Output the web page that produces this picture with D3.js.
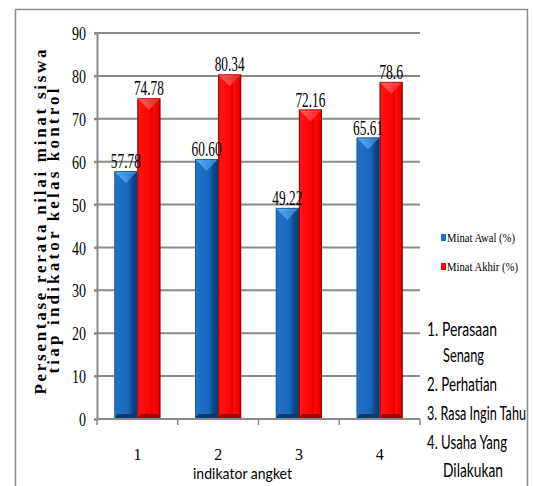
<!DOCTYPE html>
<html>
<head>
<meta charset="utf-8">
<script src="https://cdn.jsdelivr.net/npm/d3@7"></script>
<style>
  html, body { margin: 0; padding: 0; background: #fff; }
  svg { display: block; }
</style>
</head>
<body>
<svg id="chart" width="533" height="486"></svg>
<script>
// Indicator categories and the two series (percent)
const categories = ["1", "2", "3", "4"];
const seriesNames = ["Minat Awal (%)", "Minat Akhir (%)"];
const minatAwal = [57.78, 60.60, 49.22, 65.61];
const minatAkhir = [74.78, 80.34, 72.16, 78.6];
const yTicks = [0, 10, 20, 30, 40, 50, 60, 70, 80, 90];
const indicatorNotes = [
  ["1.  Perasaan", "Senang"],
  ["2. Perhatian"],
  ["3. Rasa Ingin Tahu"],
  ["4. Usaha Yang", "Dilakukan"]
];

const svg = d3.select("#chart");
const serif = "'Liberation Serif', 'Times New Roman', Times, 'DejaVu Serif', serif";
const sans = "Lato, 'Open Sans', sans-serif";
const gridColor = "#8a8a8a";

// gradients for the bevelled bars
const defs = svg.append("defs");
function hGrad(id, stops) {
  const g = defs.append("linearGradient").attr("id", id)
    .attr("x1", 0).attr("x2", 1).attr("y1", 0).attr("y2", 0);
  stops.forEach(s => g.append("stop").attr("offset", s[0]).attr("stop-color", s[1]));
}
hGrad("blueBody", [["0%", "#3a8ad8"], ["8%", "#1f72c6"], ["60%", "#1767bb"], ["70%", "#115aa6"], ["78%", "#0c4a8d"], ["100%", "#093c73"]]);
hGrad("redBody", [["0%", "#a80000"], ["7%", "#ff1414"], ["55%", "#ff0000"], ["62%", "#cc0000"], ["68%", "#ff0a0a"], ["90%", "#f00000"], ["100%", "#9a0000"]]);
hGrad("blueTop", [["0%", "#5fb2f5"], ["100%", "#2f86d6"]]);
hGrad("redTop", [["0%", "#ff6a6a"], ["100%", "#ff2a2a"]]);

// outer frame (left, top and right edges; the bottom runs off the page)
svg.append("path")
  .attr("d", "M15.5,486 L15.5,9.5 L527.5,9.5 L527.5,486")
  .attr("fill", "none").attr("stroke", "#8c8c8c").attr("stroke-width", 1.5);

// scales
const x0 = d3.scaleBand().domain(categories).range([97, 420]).paddingInner(0).paddingOuter(0);
const x1 = d3.scaleBand().domain(seriesNames).range([0, x0.bandwidth()]).paddingInner(0).paddingOuter(0.75);
const y = d3.scaleLinear().domain([0, 90]).range([419, 33]);

// horizontal gridlines
svg.append("g").selectAll("line").data(yTicks.filter(t => t > 0)).join("line")
  .attr("x1", 94).attr("x2", 420)
  .attr("y1", d => y(d)).attr("y2", d => y(d))
  .attr("stroke", gridColor).attr("stroke-width", 2);

// y axis
const yAxis = svg.append("g").attr("transform", "translate(97,0)")
  .call(d3.axisLeft(y).tickValues(yTicks).tickSize(3).tickPadding(8));
yAxis.select(".domain").attr("stroke", gridColor).attr("stroke-width", 2);
yAxis.selectAll(".tick line").attr("stroke", gridColor).attr("stroke-width", 2);
yAxis.selectAll(".tick text")
  .attr("font-family", serif).attr("font-size", 19).attr("fill", "#000")
  .attr("dy", "0.35em")
  .attr("textLength", d => String(d).length * 7)
  .attr("lengthAdjust", "spacingAndGlyphs");

// bars
const series = [
  { name: seriesNames[0], values: minatAwal, fmt: d3.format(".2f"), body: "url(#blueBody)", top: "url(#blueTop)", base: "#0c3a6a", edge: "#0a3a6e" },
  { name: seriesNames[1], values: minatAkhir, fmt: v => String(v), body: "url(#redBody)", top: "url(#redTop)", base: "#a00000", edge: "#8a0000" }
];

const bars = [];
series.forEach(s => {
  categories.forEach((c, i) => {
    bars.push({ s, c, v: s.values[i] });
  });
});

const barG = svg.append("g");
const labelG = svg.append("g");
bars.forEach(b => {
  const bx = x0(b.c) + x1(b.s.name);
  const bw = x1.bandwidth();
  const by = y(b.v);
  const bh = y(0) - by;
  const g = barG.append("g");
  g.append("rect").attr("x", bx).attr("y", by).attr("width", bw).attr("height", bh)
    .attr("fill", b.s.body);
  // top bevel and chevron highlight
  g.append("polygon")
    .attr("points", [[bx, by], [bx + bw, by], [bx + bw - 3, by + 3], [bx + 3, by + 3]].map(p => p.join(",")).join(" "))
    .attr("fill", b.s.top);
  g.append("polygon")
    .attr("points", [[bx + 3, by + 3], [bx + bw - 3, by + 3], [bx + bw / 2, by + 12]].map(p => p.join(",")).join(" "))
    .attr("fill", b.s.top).attr("opacity", 0.85);
  // bottom bevel
  g.append("polygon")
    .attr("points", [[bx + 3, y(0) - 5], [bx + bw - 3, y(0) - 5], [bx + bw, y(0)], [bx, y(0)]].map(p => p.join(",")).join(" "))
    .attr("fill", b.s.base);
  g.append("rect").attr("x", bx + 0.5).attr("y", by + 0.5).attr("width", bw - 1).attr("height", bh - 1)
    .attr("fill", "none").attr("stroke", b.s.edge).attr("stroke-width", 1).attr("opacity", 0.6);
  // value label
  const label = b.s.fmt(b.v);
  labelG.append("text")
    .attr("x", bx + bw / 2).attr("y", by - 3)
    .attr("text-anchor", "middle")
    .attr("font-family", serif).attr("font-size", 21).attr("fill", "#000")
    .attr("textLength", label.length * 6)
    .attr("lengthAdjust", "spacingAndGlyphs")
    .text(label);
});

// x axis line and tick marks
svg.append("line").attr("x1", 97).attr("x2", 420).attr("y1", 419).attr("y2", 419)
  .attr("stroke", gridColor).attr("stroke-width", 2);
const bounds = categories.map(c => x0(c)).concat([x0(categories[categories.length - 1]) + x0.bandwidth()]);
svg.append("g").selectAll("line").data(bounds).join("line")
  .attr("x1", d => d).attr("x2", d => d).attr("y1", 419).attr("y2", 425)
  .attr("stroke", gridColor).attr("stroke-width", 1.5);

// category labels
svg.append("g").selectAll("text").data(categories).join("text")
  .attr("x", d => x0(d) + x0.bandwidth() / 2).attr("y", 460)
  .attr("text-anchor", "middle")
  .attr("font-family", serif).attr("font-size", 16).attr("fill", "#000")
  .attr("textLength", 8).attr("lengthAdjust", "spacingAndGlyphs")
  .text(d => d);

// x axis title
svg.append("text").attr("x", 193).attr("y", 479)
  .attr("font-family", sans).attr("font-size", 16).attr("fill", "#000")
  .attr("textLength", 99).attr("lengthAdjust", "spacingAndGlyphs")
  .text("indikator  angket");

// y axis title (two rotated lines)
const yTitle = [
  { text: "Persentase rerata nilai minat siswa", cx: 46, cy: 222, len: 345 },
  { text: "tiap indikator kelas kontrol", cx: 59, cy: 231, len: 285 }
];
yTitle.forEach(t => {
  svg.append("text")
    .attr("transform", `translate(${t.cx},${t.cy}) rotate(-90)`)
    .attr("text-anchor", "middle")
    .attr("font-family", serif).attr("font-weight", "bold").attr("font-size", 17).attr("fill", "#000")
    .attr("textLength", t.len).attr("lengthAdjust", "spacing")
    .text(t.text);
});

// legend
const legendColors = ["#1f6fc2", "#ff0000"];
const legendY = [242, 271];
const legendLen = [68, 71];
seriesNames.forEach((n, i) => {
  svg.append("rect").attr("x", 441).attr("y", legendY[i] - 8).attr("width", 5).attr("height", 7)
    .attr("fill", legendColors[i]);
  svg.append("text").attr("x", 447).attr("y", legendY[i])
    .attr("font-family", serif).attr("font-size", 13).attr("fill", "#000")
    .attr("textLength", legendLen[i]).attr("lengthAdjust", "spacingAndGlyphs")
    .text(n);
});

// indicator notes, set in a horizontally condensed group
const squeeze = 0.66;
const noteLines = [];
indicatorNotes.forEach(lines => lines.forEach((l, j) => noteLines.push({ text: l, indent: j > 0 })));
const noteY = [336, 362, 391, 420, 449, 477];
const noteLen = [70, 41, 70, 99, 80, 60];
svg.append("g").attr("transform", `scale(${squeeze},1)`)
  .selectAll("text").data(noteLines).join("text")
  .attr("x", d => (d.indent ? 443 : 427) / squeeze)
  .attr("y", (d, i) => noteY[i])
  .attr("font-family", sans).attr("font-size", 19).attr("fill", "#000")
  .attr("textLength", (d, i) => noteLen[i] / squeeze).attr("lengthAdjust", "spacingAndGlyphs")
  .text(d => d.text);
</script>
</body>
</html>
